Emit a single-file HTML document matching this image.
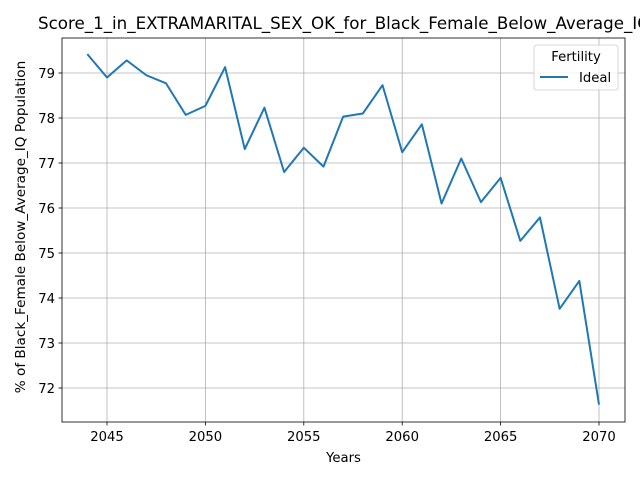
<!DOCTYPE html>
<html><head><meta charset="utf-8"><style>
body{margin:0;background:#fff;overflow:hidden;}
svg{display:block;font-family:"DejaVu Sans","Liberation Sans",sans-serif;}
</style></head><body>
<svg id="chart" width="640" height="480"></svg>
<script>
const years=[2044,2045,2046,2047,2048,2049,2050,2051,2052,2053,2054,2055,2056,2057,2058,2059,2060,2061,2062,2063,2064,2065,2066,2067,2068,2069,2070];
const idealValues=[79.42,78.9,79.28,78.95,78.77,78.07,78.27,79.13,77.31,78.23,76.8,77.34,76.92,78.03,78.1,78.73,77.24,77.86,76.1,77.1,76.13,76.67,75.27,75.79,73.76,74.38,71.63];
const xTicks=[2045,2050,2055,2060,2065,2070];
const yTicks=[72,73,74,75,76,77,78,79];
const L=62,R=625,T=38,B=422;
const x=v=>107+(v-2045)*19.68;
const y=v=>73+(79-v)*45;
const NS="http://www.w3.org/2000/svg";
const svg=document.getElementById('chart');
function mk(tag,attrs,parent){const e=document.createElementNS(NS,tag);for(const k in attrs)e.setAttribute(k,attrs[k]);(parent||svg).appendChild(e);return e;}
const grid=mk('g',{});


xTicks.forEach(t=>{
  mk('line',{x1:x(t),x2:x(t),y1:T,y2:B,stroke:'#b0b0b0','stroke-width':0.8},grid);
  mk('line',{x1:x(t),x2:x(t),y1:B,y2:B+3.5,stroke:'#000','stroke-width':0.8});
  const tx=mk('text',{x:x(t),y:B+19,'font-size':13.2,'text-anchor':'middle'});
  
  
  tx.textContent=t;
});
yTicks.forEach(t=>{
  mk('line',{x1:L,x2:R,y1:y(t),y2:y(t),stroke:'#b0b0b0','stroke-width':0.8},grid);
  mk('line',{x1:L-3.5,x2:L,y1:y(t),y2:y(t),stroke:'#000','stroke-width':0.8});
  const tx=mk('text',{x:L-7,y:y(t)+5,'font-size':13.2,'text-anchor':'end'});
  
  
  tx.textContent=t;
});
const line=mk('polyline',{points:years.map((yr,i)=>x(yr)+','+y(idealValues[i])).join(' '),fill:'none',stroke:'#1f77b4','stroke-width':2,'stroke-linejoin':'round'});


const frame=mk('rect',{x:L,y:T,width:R-L,height:B-T,fill:'none',stroke:'#000','stroke-width':0.8});


const title=mk('text',{x:38,y:29,'font-size':16.7});


title.textContent='Score_1_in_EXTRAMARITAL_SEX_OK_for_Black_Female_Below_Average_IQ_Population';
const xl=mk('text',{x:(L+R)/2,y:462,'font-size':13.2,'text-anchor':'middle'});


xl.textContent='Years';
const yl=mk('text',{x:25,y:(T+B)/2-3,'font-size':13.6,'text-anchor':'middle',transform:'rotate(-90 25 '+((T+B)/2-3)+')'});


yl.textContent='% of Black_Female Below_Average_IQ Population';
const lg=mk('g',{});


mk('rect',{x:534,y:45,width:84,height:45,rx:3,fill:'#fff','fill-opacity':0.8,stroke:'#ccc','stroke-width':0.8},lg);
const lt=mk('text',{x:576,y:61,'font-size':13.2,'text-anchor':'middle'},lg);
lt.textContent='Fertility';
mk('line',{x1:540,x2:568,y1:77,y2:77,stroke:'#1f77b4','stroke-width':2},lg);
const le=mk('text',{x:579,y:82,'font-size':13.2},lg);


le.textContent='Ideal';
</script>
</body></html>
